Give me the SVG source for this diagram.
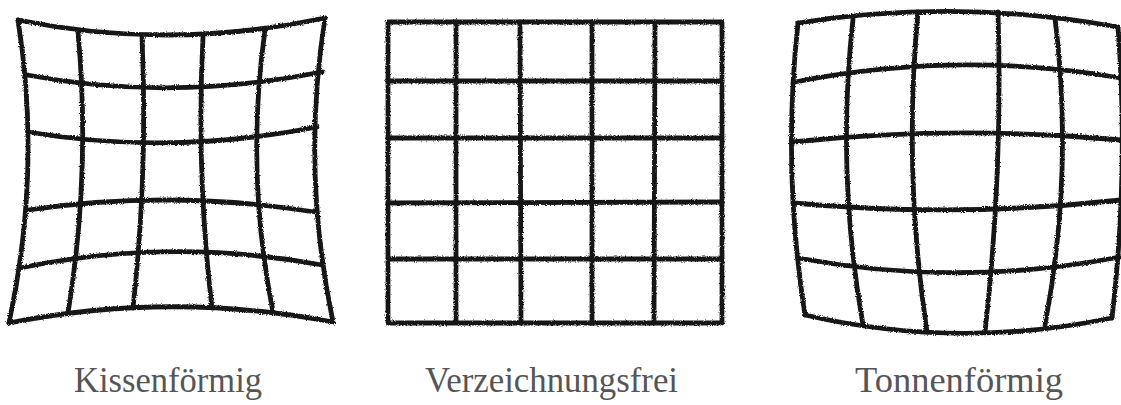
<svg xmlns="http://www.w3.org/2000/svg" width="1121" height="405" viewBox="0 0 1121 405">
  <defs>
    <filter id="rough" x="-5%" y="-5%" width="110%" height="110%">
      <feTurbulence type="fractalNoise" baseFrequency="0.9" numOctaves="2" seed="3" result="n"/>
      <feDisplacementMap in="SourceGraphic" in2="n" scale="3" xChannelSelector="R" yChannelSelector="G"/>
    </filter>
  </defs>
  <style>
    .g path, .g line, .g rect { fill: none; stroke: #151515; stroke-width: 4.8; stroke-linecap: round; stroke-linejoin: round; }
    .lbl { font-family: "Liberation Serif", "Times New Roman", serif; font-size: 35px; fill: #555; }
  </style>
  <rect width="1121" height="405" fill="#fff"/>

  <g id="kissenfoermig" class="g" filter="url(#rough)">
    <path d="M18 20 Q169 51 325 18"/>
    <path d="M27 75 Q170 102 322 72"/>
    <path d="M28 132 Q170 156 317 127"/>
    <path d="M28 210 Q170 189 315 212"/>
    <path d="M20 268 Q170 237 322 265"/>
    <path d="M9 323 Q170 291 333 322"/>
    <path d="M18 20 Q42 170 9 323"/>
    <path d="M78 32 Q91 172 68 313"/>
    <path d="M142 37 Q148 172 133 308"/>
    <path d="M203 37 Q196 172 212 308"/>
    <path d="M265 30 Q245 171 273 312"/>
    <path d="M325 18 Q301 170 333 322"/>
  </g>

  <g id="verzeichnungsfrei" class="g" filter="url(#rough)">
    <rect x="388" y="22" width="334" height="301"/>
    <line x1="456" y1="22" x2="456" y2="323"/>
    <line x1="520" y1="22" x2="521" y2="323"/>
    <line x1="592" y1="22" x2="592" y2="323"/>
    <line x1="655" y1="22" x2="654" y2="323"/>
    <line x1="388" y1="81" x2="722" y2="81"/>
    <line x1="388" y1="138" x2="722" y2="138"/>
    <line x1="388" y1="203" x2="722" y2="202"/>
    <line x1="388" y1="259" x2="722" y2="259"/>
  </g>

  <g id="tonnenfoermig" class="g" filter="url(#rough)">
    <path d="M798 23 Q958 -2 1118 27"/>
    <path d="M795 82 Q958 50 1121 78"/>
    <path d="M793 142 Q958 125 1121 140"/>
    <path d="M793 203 Q958 218 1121 200"/>
    <path d="M798 258 Q958 288 1120 257"/>
    <path d="M805 315 Q958 350 1112 318"/>
    <path d="M798 23 Q782 169 805 315"/>
    <path d="M853 19 Q836 172 863 325"/>
    <path d="M918 12 Q903 172 927 332"/>
    <path d="M998 12 Q1003 172 985 332"/>
    <path d="M1055 18 Q1074 172 1045 325"/>
    <path d="M1118 27 Q1129 172 1112 318"/>
  </g>

  <g id="labels">
    <text class="lbl" x="74" y="392" textLength="188" lengthAdjust="spacingAndGlyphs">Kissenförmig</text>
    <text class="lbl" x="425" y="392" textLength="253" lengthAdjust="spacingAndGlyphs">Verzeichnungsfrei</text>
    <text class="lbl" x="855" y="392" textLength="208" lengthAdjust="spacingAndGlyphs">Tonnenförmig</text>
  </g>
  <g id="connectors"/>
</svg>
